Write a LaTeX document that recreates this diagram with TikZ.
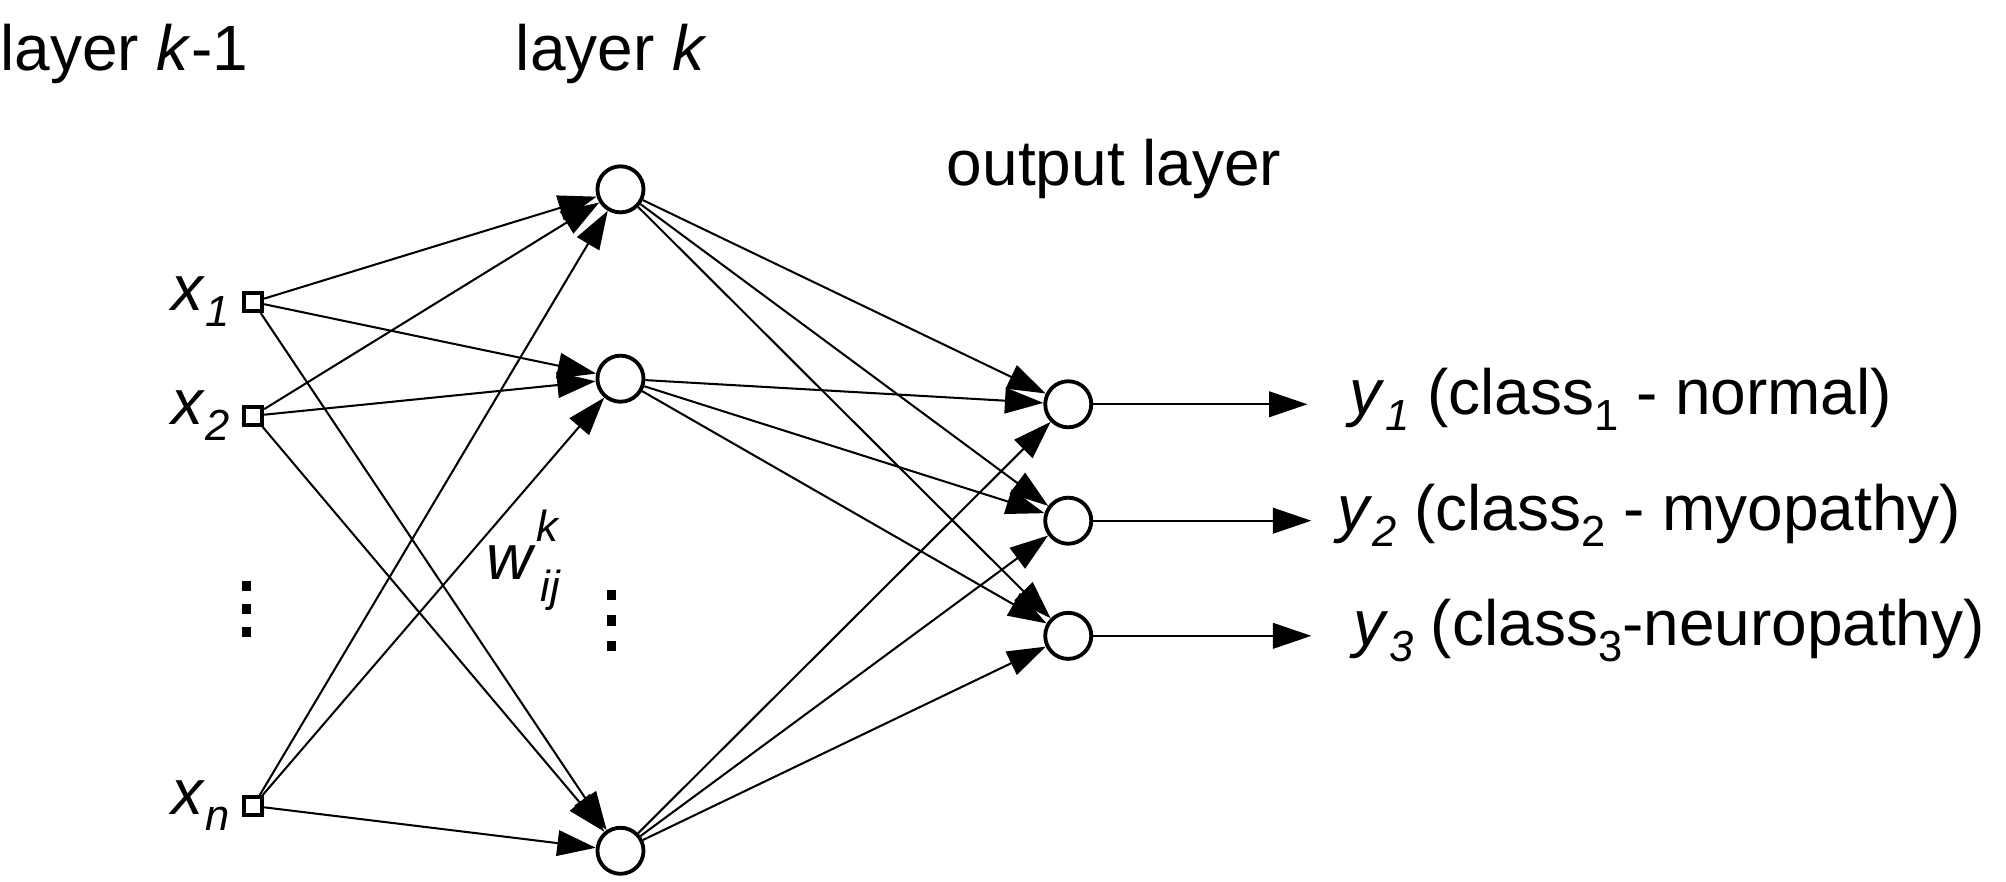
\documentclass[tikz,border=0pt]{standalone}
\usepackage{fontspec}
\setmainfont{Liberation Sans}
\usetikzlibrary{arrows.meta}
\newcommand{\sbs}[1]{\raisebox{-0.25em}{\fontsize{34}{40}\selectfont #1}}
\begin{document}
\begin{tikzpicture}[x=1pt,y=-1pt,
  inp/.style={draw,line width=3pt,minimum size=14pt,inner sep=0pt},
  neu/.style={circle,draw,line width=3pt,minimum size=36pt,inner sep=0pt},
  con/.style={line width=1.6pt,-{Triangle[length=30pt,width=20pt]}},
  txt/.style={font=\fontsize{50}{58}\selectfont,inner sep=0pt},
  dot/.style={fill,minimum width=7pt,minimum height=8pt,inner sep=0pt}]
\useasboundingbox (0,0) rectangle (1568,689);
\node[inp] (x1) at (198,236) {};
\node[inp] (x2) at (198,325) {};
\node[inp] (xn) at (198,630) {};
\node[neu] (h1) at (485,148) {};
\node[neu] (h2) at (485,296) {};
\node[neu] (h3) at (485,665) {};
\node[neu] (o1) at (835,316) {};
\node[neu] (o2) at (835,407) {};
\node[neu] (o3) at (835,497) {};
\foreach \i in {x1,x2,xn}{\foreach \h in {h1,h2,h3}{\draw[con] (\i) -- (\h);}}
\foreach \h in {h1,h2,h3}{\foreach \o in {o1,o2,o3}{\draw[con] (\h) -- (\o);}}
\coordinate (e1) at (1022,316);
\coordinate (e2) at (1025,407);
\coordinate (e3) at (1025,497);
\draw[con] (o1) -- (e1);
\draw[con] (o2) -- (e2);
\draw[con] (o3) -- (e3);
\node[txt,anchor=west] (l1) at (0,42) {layer \textit{k}-1};
\node[txt,anchor=west] (l2) at (403,42) {layer \textit{k}};
\node[txt,anchor=west] (l3) at (740,132) {output layer};
\node[txt,anchor=east] (tx1) at (180,236) {\textit{x}\sbs{\textit{1}}};
\node[txt,anchor=east] (tx2) at (180,325) {\textit{x}\sbs{\textit{2}}};
\node[txt,anchor=east] (txn) at (180,630) {\textit{x}\sbs{\textit{n}}};
\node[txt,anchor=west] (w) at (380,438) {\textit{w}\raisebox{0.6em}{\fontsize{34}{40}\selectfont\textit{k}}\kern-0.3em\raisebox{-0.35em}{\fontsize{34}{40}\selectfont\textit{ij}}};
\node[txt,anchor=west] (ty1) at (1055,312) {\textit{y}\sbs{\textit{1}} (class\sbs{1} - normal)};
\node[txt,anchor=west] (ty2) at (1045,403) {\textit{y}\sbs{\textit{2}} (class\sbs{2} - myopathy)};
\node[txt,anchor=west] (ty3) at (1058,493) {\textit{y}\sbs{\textit{3}} (class\sbs{3}-neuropathy)};
\foreach \yy [count=\k] in {458,476,494}{\node[dot] (da\k) at (193,\yy) {};}
\foreach \yy [count=\k] in {465,485,505}{\node[dot] (db\k) at (478,\yy) {};}
\end{tikzpicture}
\end{document}
